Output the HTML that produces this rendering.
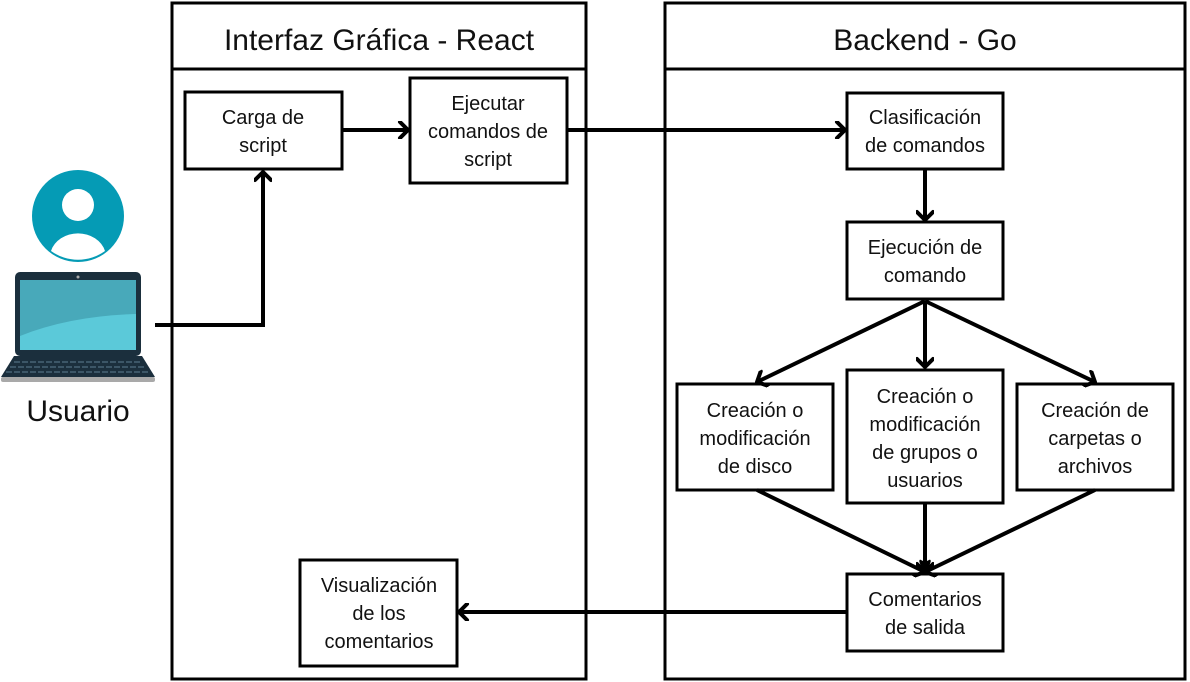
<!DOCTYPE html>
<html><head><meta charset="utf-8"><style>
html,body{margin:0;padding:0;background:#fff;}
svg{display:block;}
text{font-family:"Liberation Sans","DejaVu Sans",sans-serif;fill:#111;}
.t{font-size:20px;text-anchor:middle;}
.h{font-size:30px;text-anchor:middle;}
</style></head><body>
<svg width="1190" height="682" viewBox="0 0 1190 682" xmlns="http://www.w3.org/2000/svg">
<defs>
<marker id="b" markerWidth="18" markerHeight="18" refX="14" refY="9" orient="auto" markerUnits="userSpaceOnUse" viewBox="0 0 18 18">
<polyline points="6,1 14,9 6,17" fill="none" stroke="#000" stroke-width="4" stroke-linecap="round" stroke-linejoin="round"/>
</marker>
</defs>
<g fill="none" stroke="#000" stroke-width="3">
<rect x="172" y="3" width="414" height="676"/>
<line x1="172" y1="69" x2="586" y2="69"/>
<rect x="665" y="3" width="520" height="676"/>
<line x1="665" y1="69" x2="1185" y2="69"/>
<rect x="185" y="92" width="157" height="77"/>
<rect x="410" y="78" width="157" height="105"/>
<rect x="847" y="93" width="156" height="76"/>
<rect x="847" y="222" width="156" height="77"/>
<rect x="677" y="384" width="156" height="106"/>
<rect x="847" y="370" width="156" height="133"/>
<rect x="1017" y="384" width="156" height="106"/>
<rect x="847" y="574" width="156" height="77"/>
<rect x="300" y="560" width="157" height="106"/>
</g>
<g fill="none" stroke="#000" stroke-width="4" marker-end="url(#b)">
<polyline points="155,325 263,325 263,172"/>
<line x1="342" y1="130" x2="408" y2="130"/>
<line x1="567" y1="130" x2="845" y2="130"/>
<line x1="925" y1="169" x2="925" y2="220"/>
<line x1="925" y1="301" x2="757" y2="382"/>
<line x1="925" y1="301" x2="925" y2="367"/>
<line x1="925" y1="301" x2="1095" y2="382"/>
<line x1="757" y1="490" x2="925" y2="572"/>
<line x1="925" y1="503" x2="925" y2="572"/>
<line x1="1095" y1="490" x2="925" y2="572"/>
<line x1="847" y1="612" x2="459" y2="612"/>
</g>
<text class="h" x="379" y="50">Interfaz Gráfica - React</text>
<text class="h" x="925" y="50">Backend - Go</text>
<text class="t" x="263" y="124">Carga de</text><text class="t" x="263" y="152">script</text>
<text class="t" x="488" y="110">Ejecutar</text><text class="t" x="488" y="138">comandos de</text><text class="t" x="488" y="166">script</text>
<text class="t" x="925" y="124">Clasificación</text><text class="t" x="925" y="152">de comandos</text>
<text class="t" x="925" y="254">Ejecución de</text><text class="t" x="925" y="282">comando</text>
<text class="t" x="755" y="417">Creación o</text><text class="t" x="755" y="445">modificación</text><text class="t" x="755" y="473">de disco</text>
<text class="t" x="925" y="403">Creación o</text><text class="t" x="925" y="431">modificación</text><text class="t" x="925" y="459">de grupos o</text><text class="t" x="925" y="487">usuarios</text>
<text class="t" x="1095" y="417">Creación de</text><text class="t" x="1095" y="445">carpetas o</text><text class="t" x="1095" y="473">archivos</text>
<text class="t" x="925" y="606">Comentarios</text><text class="t" x="925" y="634">de salida</text>
<text class="t" x="379" y="592">Visualización</text><text class="t" x="379" y="620">de los</text><text class="t" x="379" y="648">comentarios</text>
<circle cx="78" cy="216" r="46" fill="#059bb5"/>
<circle cx="78" cy="205" r="16" fill="#fff"/>
<path d="M51,251 A28,24 0 0 1 105,251 A46,46 0 0 1 51,251 Z" fill="#fff"/>
<rect x="15" y="272" width="126" height="84" rx="5" fill="#1b2f3d"/>
<rect x="20" y="280" width="116" height="70" fill="#48a9ba"/>
<path d="M20,336 Q70,316 136,314 L136,350 L20,350 Z" fill="#5bc9d9"/>
<circle cx="78" cy="277" r="1.5" fill="#aaa"/>
<path d="M14,356 L142,356 L155,377 L1,377 Z" fill="#1b2f3d"/>
<rect x="1" y="377" width="154" height="5" rx="2" fill="#a9a9a9"/>
<g stroke="#3c5667" stroke-width="2">
<line x1="14" y1="362" x2="142" y2="362" stroke-dasharray="6,2"/>
<line x1="10" y1="367" x2="146" y2="367" stroke-dasharray="6,2"/>
<line x1="6" y1="372" x2="150" y2="372" stroke-dasharray="6,2"/>
</g>
<text x="78" y="421" style="font-size:30px;text-anchor:middle">Usuario</text>
</svg>
</body></html>
